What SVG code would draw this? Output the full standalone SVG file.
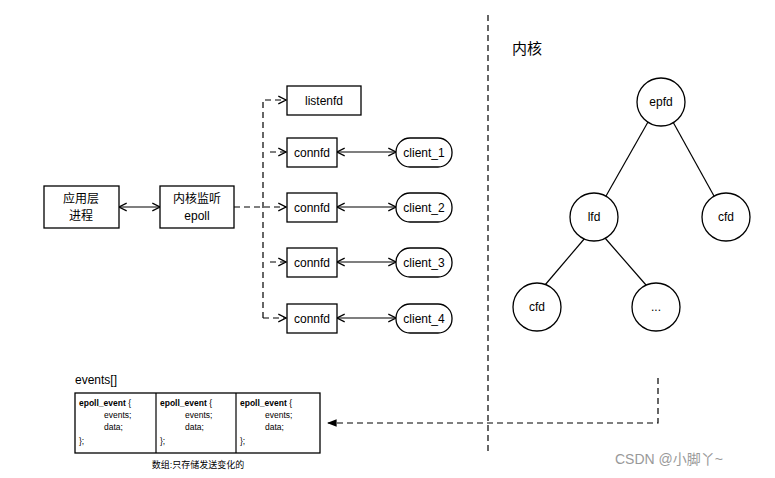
<svg xmlns="http://www.w3.org/2000/svg" width="775" height="478" viewBox="0 0 775 478">
<style>
.b{fill:#fff;stroke:#000;stroke-width:1.3}
.t{font-family:"Liberation Sans","Noto Sans CJK SC",sans-serif;font-size:12px;fill:#000}
.c{text-anchor:middle}
.l{fill:none;stroke:#000;stroke-width:1.2}
.d{fill:none;stroke:#000;stroke-width:1.2;stroke-dasharray:6,4}
.s{font-family:"Liberation Sans",sans-serif;font-size:8.5px}
</style>
<defs>
<marker id="o" viewBox="0 0 10 10" refX="9" refY="5" markerWidth="8" markerHeight="8" orient="auto-start-reverse"><path d="M1,1L9,5L1,9" fill="none" stroke="#000" stroke-width="1.3"/></marker>
<marker id="f" viewBox="0 0 10 10" refX="9" refY="5" markerWidth="8" markerHeight="8" orient="auto"><path d="M0,1L10,5L0,9z" fill="#000"/></marker>
</defs>
<rect width="775" height="478" fill="#fff"/>
<g id="connectors">
<line class="l" x1="119" y1="207" x2="160" y2="207" marker-start="url(#o)" marker-end="url(#o)"/>
<line class="d" x1="234" y1="207" x2="286" y2="207" marker-end="url(#o)"/>
<path class="d" d="M263,318V100H286" marker-end="url(#o)"/>
<line class="d" x1="270" y1="152" x2="286" y2="152" marker-end="url(#o)"/>
<line class="d" x1="270" y1="262" x2="286" y2="262" marker-end="url(#o)"/>
<path class="d" d="M263,318H286" marker-end="url(#o)"/>
<line class="l" x1="337" y1="152" x2="396" y2="152" marker-start="url(#o)" marker-end="url(#o)"/>
<line class="l" x1="337" y1="207" x2="396" y2="207" marker-start="url(#o)" marker-end="url(#o)"/>
<line class="l" x1="337" y1="262" x2="396" y2="262" marker-start="url(#o)" marker-end="url(#o)"/>
<line class="l" x1="337" y1="318" x2="396" y2="318" marker-start="url(#o)" marker-end="url(#o)"/>
<line class="d" x1="488" y1="15" x2="488" y2="452" stroke="#444"/>
<line class="l" x1="648" y1="122" x2="606" y2="196"/>
<line class="l" x1="673" y1="122" x2="714" y2="196"/>
<line class="l" x1="585" y1="238" x2="545" y2="285"/>
<line class="l" x1="605" y1="238" x2="646" y2="285"/>
<path class="d" d="M658,378V423H328" marker-end="url(#f)"/>
</g>
<g id="app"><rect class="b" x="44" y="186" width="75" height="42"/><text class="t c" x="81" y="203">应用层</text><text class="t c" x="81" y="220">进程</text></g>
<g id="epoll"><rect class="b" x="160" y="186" width="74" height="42"/><text class="t c" x="197" y="203">内核监听</text><text class="t c" x="197" y="220">epoll</text></g>
<g id="listenfd"><rect class="b" x="287" y="86" width="74" height="29"/><text class="t c" x="324" y="105">listenfd</text></g>
<g id="connfd1"><rect class="b" x="287" y="138" width="50" height="29"/><text class="t c" x="312" y="157">connfd</text></g>
<g id="connfd2"><rect class="b" x="287" y="193" width="50" height="29"/><text class="t c" x="312" y="212">connfd</text></g>
<g id="connfd3"><rect class="b" x="287" y="248" width="50" height="29"/><text class="t c" x="312" y="267">connfd</text></g>
<g id="connfd4"><rect class="b" x="287" y="304" width="50" height="29"/><text class="t c" x="312" y="323">connfd</text></g>
<g id="client1"><rect class="b" x="396" y="138" width="56" height="29" rx="14"/><text class="t c" x="424" y="157">client_1</text></g>
<g id="client2"><rect class="b" x="396" y="193" width="56" height="29" rx="14"/><text class="t c" x="424" y="212">client_2</text></g>
<g id="client3"><rect class="b" x="396" y="248" width="56" height="29" rx="14"/><text class="t c" x="424" y="267">client_3</text></g>
<g id="client4"><rect class="b" x="396" y="304" width="56" height="29" rx="14"/><text class="t c" x="424" y="323">client_4</text></g>
<text class="t" x="512" y="54" style="font-size:15px">内核</text>
<g id="epfd"><circle class="b" cx="661" cy="102" r="24"/><text class="t c" x="661" y="106">epfd</text></g>
<g id="lfd"><circle class="b" cx="594" cy="217" r="24"/><text class="t c" x="594" y="221">lfd</text></g>
<g id="cfd1"><circle class="b" cx="726" cy="217" r="24"/><text class="t c" x="726" y="221">cfd</text></g>
<g id="cfd2"><circle class="b" cx="537" cy="307" r="24"/><text class="t c" x="537" y="311">cfd</text></g>
<g id="dots"><circle class="b" cx="656" cy="307" r="24"/><text class="t c" x="656" y="311">...</text></g>
<g id="events">
<text class="t" x="75" y="384">events[]</text>
<rect class="b" x="75" y="393" width="245" height="60" stroke-width="1"/>
<line class="l" x1="156" y1="393" x2="156" y2="453" stroke-width="1"/>
<line class="l" x1="236" y1="393" x2="236" y2="453" stroke-width="1"/>
<g class="s">
<text x="79" y="406"><tspan font-weight="bold">epoll_event</tspan> {</text><text x="104" y="418">events;</text><text x="104" y="430">data;</text><text x="79" y="444">};</text>
<text x="160" y="406"><tspan font-weight="bold">epoll_event</tspan> {</text><text x="185" y="418">events;</text><text x="185" y="430">data;</text><text x="160" y="444">};</text>
<text x="240" y="406"><tspan font-weight="bold">epoll_event</tspan> {</text><text x="265" y="418">events;</text><text x="265" y="430">data;</text><text x="240" y="444">};</text>
</g>
<text class="t c" x="198" y="468" style="font-size:9px">数组:只存储发送变化的</text>
</g>
<text x="615" y="464" font-family="Liberation Sans,Noto Sans CJK SC,sans-serif" font-size="14" fill="#999">CSDN @小脚丫~</text>
</svg>
